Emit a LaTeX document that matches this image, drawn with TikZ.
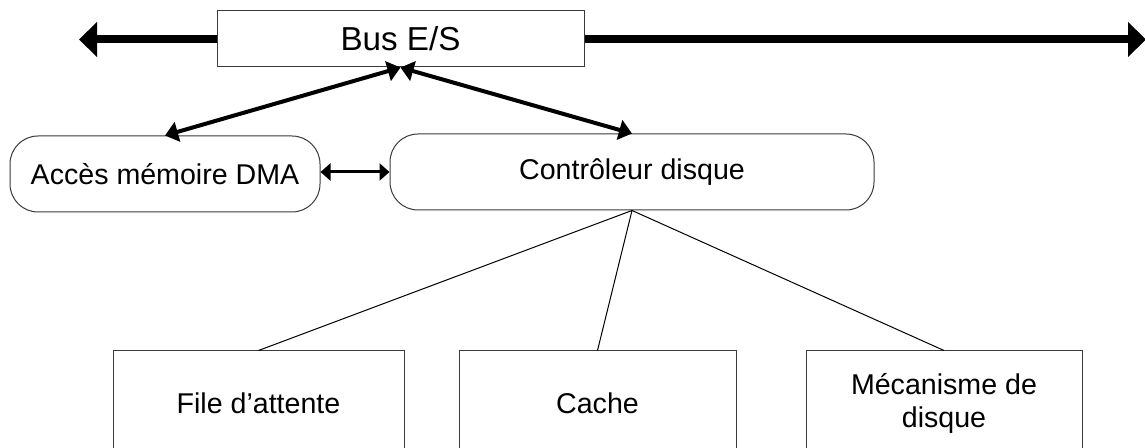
\documentclass[tikz,border=0pt]{standalone}
\usepackage{fontspec}
\setmainfont{Liberation Sans}
\usetikzlibrary{arrows.meta, positioning, calc}
\definecolor{boxLine}{HTML}{3A3A3A}
\definecolor{linkLine}{HTML}{000000}

\begin{document}
\begin{tikzpicture}[
  x=0.5pt, y=-0.5pt,
  font=\fontsize{14.3}{16.5}\selectfont,
  box/.style    ={draw=boxLine, line width=0.5pt, align=center, inner sep=0pt},
  busbox/.style ={box, minimum width=183.5pt, minimum height=28pt, font=\fontsize{16.6}{19}\selectfont},
  unit/.style   ={box, rounded corners=14pt, minimum height=38pt},
  part/.style   ={box, minimum width=138.5pt, minimum height=52.5pt},
  busflow/.style={draw=linkLine, line width=4pt},
  flow/.style   ={{Triangle[length=6.5pt,width=10pt]}-{Triangle[length=6.5pt,width=10pt]}, draw=linkLine, line width=2pt},
  side/.style   ={{Triangle[length=5pt,width=8.5pt]}-{Triangle[length=5pt,width=8.5pt]}, draw=linkLine, line width=1.5pt},
  tie/.style    ={draw=linkLine, line width=0.5pt},
]
\useasboundingbox (0,0) rectangle (1145,448);
% ----- Bus -----
\node[busbox] (bus) at (400.5,39) {Bus E/S};
\coordinate (busL) at (79,39.5);
\coordinate (busR) at (1146,39.5);
\draw[busflow, -{Triangle[length=9pt,width=17pt]}] (busL -| bus.west) -- (busL);
\draw[busflow, -{Triangle[length=9pt,width=17pt]}] (busR -| bus.east) -- (busR);
% ----- Controllers -----
\node[unit, minimum width=155pt] (dma)  at (165,174) {Accès mémoire DMA};
\node[unit, minimum width=242pt] (ctrl) at (632,172) {Contrôleur disque};
\draw[flow] (dma.north) -- (bus.south);
\draw[flow] (bus.south) -- (ctrl.north);
\draw[side] (ctrl.west -| dma.east) -- (ctrl.west);
% ----- Disk parts -----
\node[part, minimum width=145.5pt] (queue) at (258.5,403.5) {File d’attente};
\node[part] (cache) at (597.5,403.5) {Cache};
\node[part, minimum width=138pt] (mech) at (944,403.5) {Mécanisme de\\disque};
\draw[tie] (ctrl.south) -- (queue.north);
\draw[tie] (ctrl.south) -- (cache.north);
\draw[tie] (ctrl.south) -- (mech.north);
\end{tikzpicture}
\end{document}
